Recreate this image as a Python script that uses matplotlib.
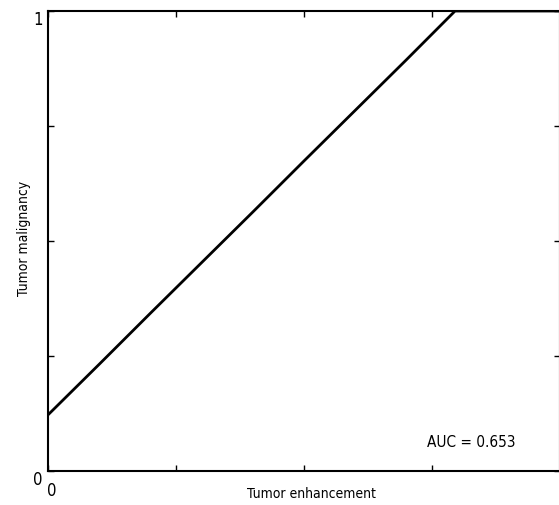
import matplotlib
matplotlib.use("Agg")
import matplotlib.pyplot as plt
import matplotlib.transforms as mtransforms

# ROC curve values
fpr = [0.0, 0.1, 0.2, 0.3, 0.4, 0.5, 0.6, 0.7, 0.795, 1.0]
tpr = [0.122, 0.232, 0.343, 0.453, 0.563, 0.674, 0.784, 0.894, 1.0, 1.0]
auc_text = "AUC = 0.653"
x_label = "Tumor enhancement"
y_label = "Tumor malignancy"
tick_vals = [0, 0.25, 0.5, 0.75, 1]
tick_labels = ["0", "", "", "", "1"]

plt.rcParams['font.family'] = ['DejaVu Sans']
plt.rcParams['font.stretch'] = 'condensed'

fig = plt.figure(figsize=(5.59, 5.06), dpi=100)
ax = fig.add_axes([48 / 559, 34 / 506, 512 / 559, 460 / 506])
ax.plot(fpr, tpr, color='black', lw=2.0, clip_on=True)
ax.set_xlim(0, 1)
ax.set_ylim(0, 1)
ax.set_xticks(tick_vals)
ax.set_xticklabels(tick_labels)
ax.set_yticks(tick_vals)
ax.set_yticklabels(tick_labels)
ax.tick_params(direction='in', length=4, width=1, top=True, right=True,
               labelsize=12)
ax.tick_params(axis='x', pad=7)
ax.tick_params(axis='y', pad=4)
for s in ax.spines.values():
    s.set_linewidth(1.5)

# shift tick labels slightly, like the reference
ydown = mtransforms.ScaledTranslation(0, -0.06, fig.dpi_scale_trans)
for lab in ax.get_yticklabels():
    lab.set_transform(lab.get_transform() + ydown)
xright = mtransforms.ScaledTranslation(0.035, 0, fig.dpi_scale_trans)
for lab in ax.get_xticklabels():
    lab.set_transform(lab.get_transform() + xright)

ax.set_xlabel(x_label, fontsize=10, va='center')
ax.xaxis.set_label_coords(0.515, -0.048)
ax.set_ylabel(y_label, fontsize=10, va='center')
ax.yaxis.set_label_coords(-0.046, 0.507)
ax.text(0.74, 0.065, auc_text, fontsize=11, ha='left', va='center',
        transform=ax.transAxes)
fig.savefig("out.png", dpi=100)
